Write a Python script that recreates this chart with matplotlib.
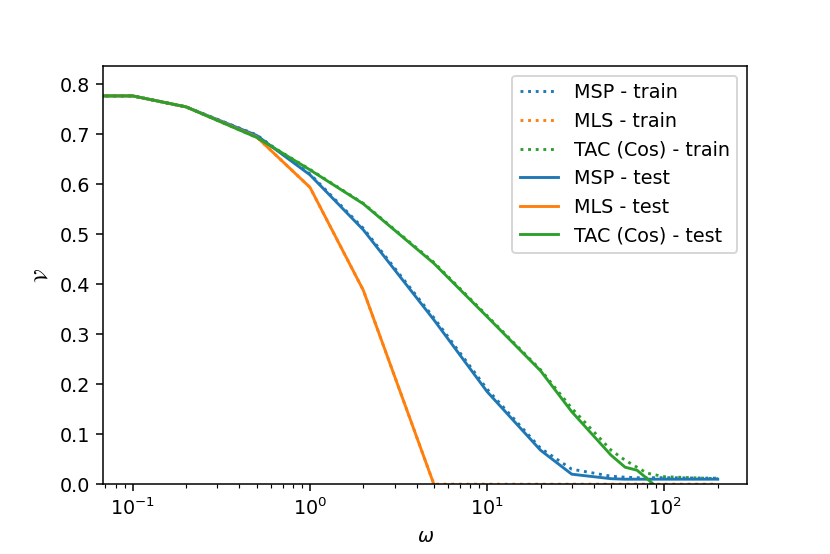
import numpy as np
import matplotlib
matplotlib.use('Agg')
import matplotlib.pyplot as plt

# omega values (0 is the first point, drawn off to the left on the log axis)
omega = [0, 0.1, 0.2, 0.5, 1, 2, 5, 10, 20, 30, 50, 60, 70, 80, 100, 200]
nan = np.nan

msp_train = [0.777, 0.777, 0.755, 0.699, 0.621, 0.512, 0.333, 0.190, 0.072, 0.030, 0.016, 0.014, 0.013, 0.013, 0.013, 0.012]
mls_train = [0.777, 0.777, 0.755, 0.695, 0.594, 0.388, 0.0, 0.0, 0.0, 0.0, 0.0, 0.0, 0.0, 0.0, 0.0, 0.0]
tac_train = [0.777, 0.777, 0.755, 0.694, 0.630, 0.562, 0.444, 0.337, 0.229, 0.152, 0.068, 0.048, 0.034, 0.022, 0.015, 0.011]

msp_test = [0.777, 0.777, 0.755, 0.698, 0.619, 0.509, 0.329, 0.185, 0.068, 0.020, 0.011, 0.010, 0.010, 0.010, 0.010, 0.010]
mls_test = [0.777, 0.777, 0.755, 0.695, 0.594, 0.388, 0.0, nan, nan, nan, nan, nan, nan, nan, nan, nan]
tac_test = [0.777, 0.777, 0.755, 0.694, 0.629, 0.561, 0.442, 0.335, 0.227, 0.145, 0.058, 0.034, 0.028, 0.011, -0.02, nan]

labels = ['MSP', 'MLS', 'TAC (Cos)']

dpi = 138
fig, ax = plt.subplots(figsize=(830 / dpi, 554 / dpi), dpi=dpi)
fig.subplots_adjust(left=0.1245, right=0.9, top=0.881, bottom=0.126)

for y, lab, c in zip([msp_train, mls_train, tac_train], labels, ['C0', 'C1', 'C2']):
    ax.plot(omega, y, ':', color=c, lw=1.5, label=f'{lab} - train')
for y, lab, c in zip([msp_test, mls_test, tac_test], labels, ['C0', 'C1', 'C2']):
    ax.plot(omega, y, '-', color=c, lw=1.5, label=f'{lab} - test')

ax.set_xscale('log')
ax.set_xlim(10 ** -1.166, 10 ** 2.466)
ax.set_ylim(0, 0.837)
ax.set_xlabel(r'$\omega$')
ax.set_ylabel(r'$\mathcal{V}$')
ax.legend(loc='upper right')

fig.savefig('out.png', dpi=dpi)
